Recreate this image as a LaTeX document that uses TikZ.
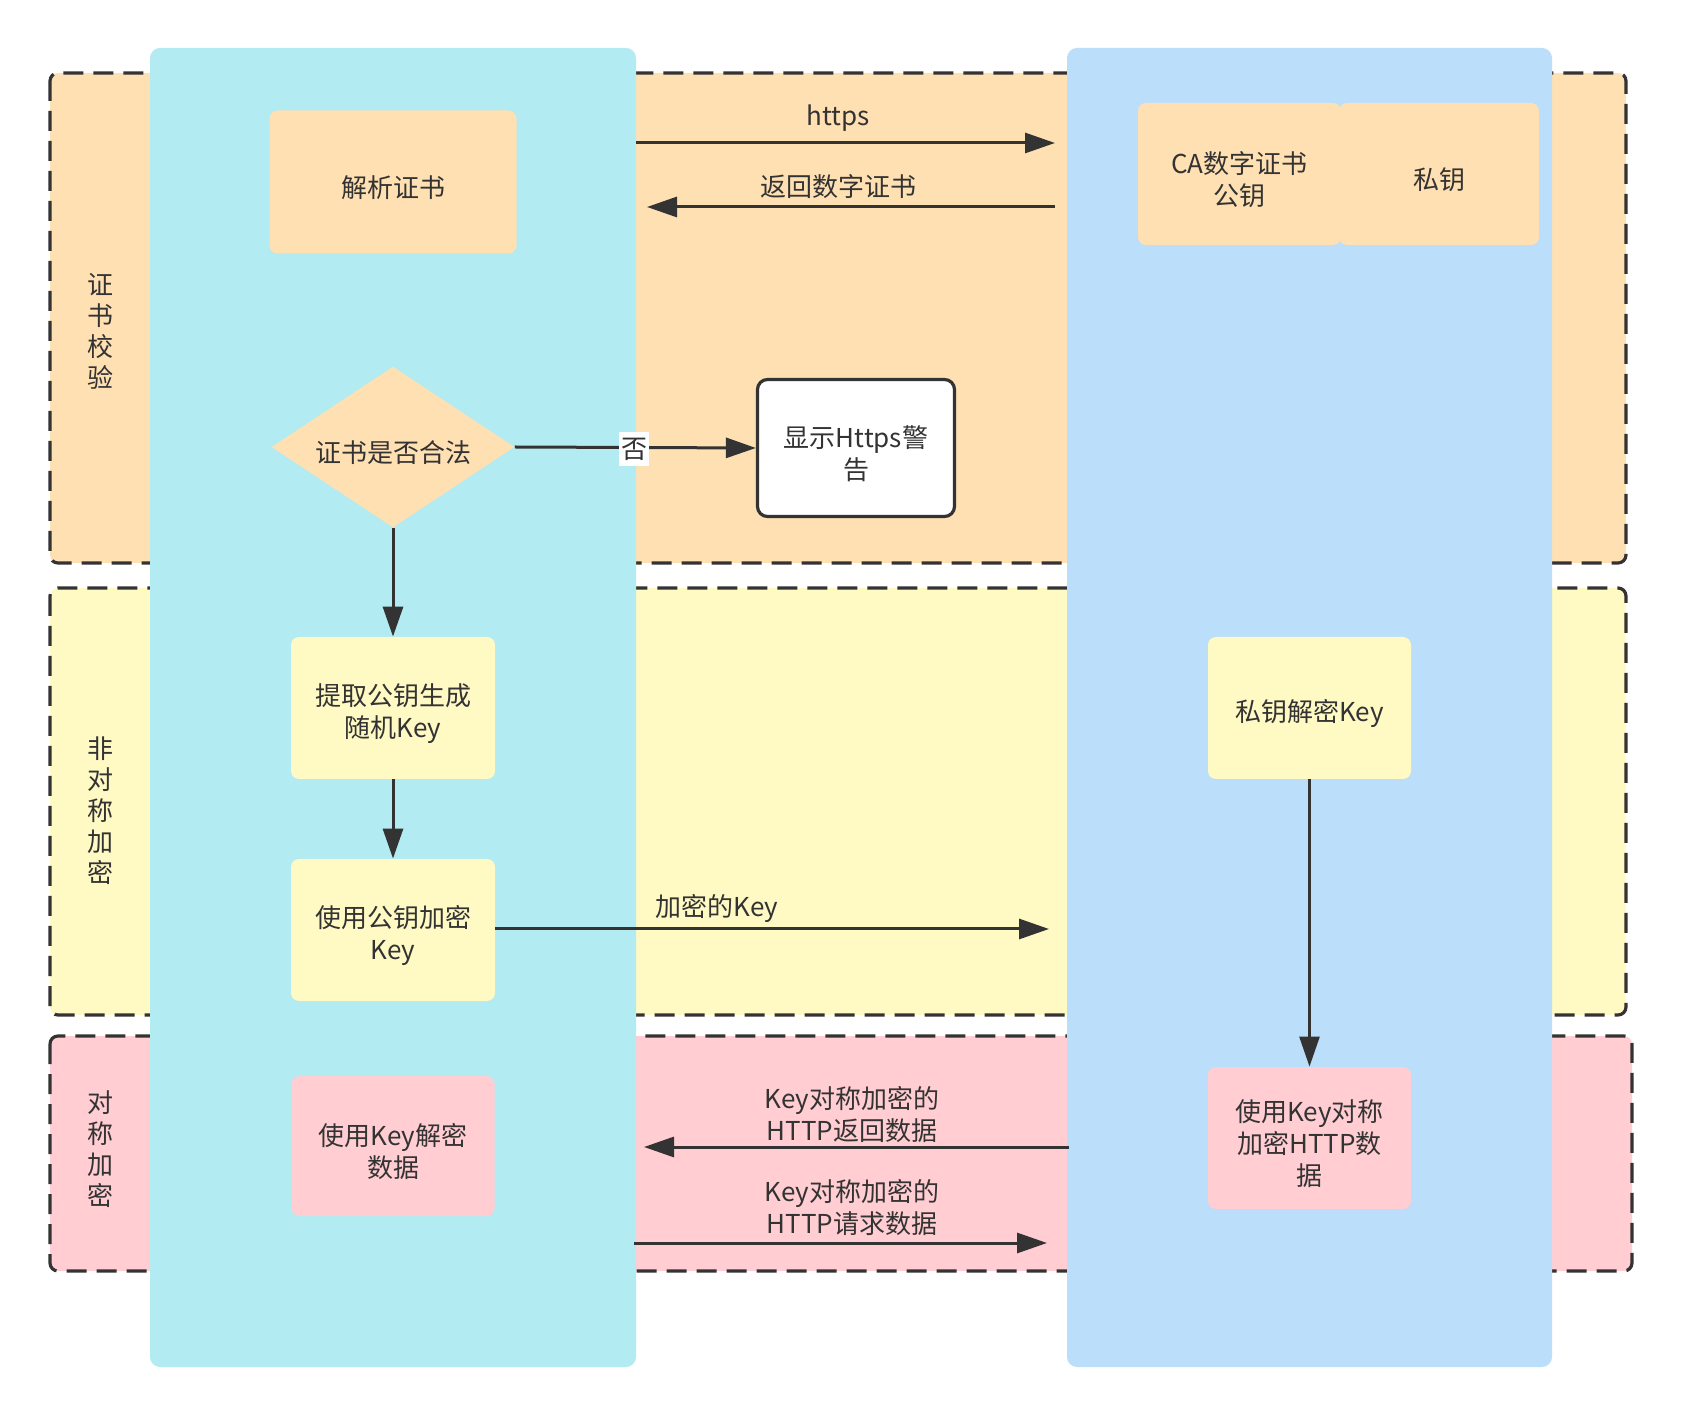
\documentclass[tikz,border=0pt]{standalone}
\usepackage{fontspec}
\setmainfont{Noto Sans CJK SC}
\usetikzlibrary{arrows.meta,shapes.geometric}
\definecolor{dark}{HTML}{333333}
\definecolor{peach}{HTML}{FFE0B2}
\definecolor{lyellow}{HTML}{FFF9C4}
\definecolor{lpink}{HTML}{FFCDD2}
\definecolor{lcyan}{HTML}{B2EBF2}
\definecolor{lblue}{HTML}{BBDEFB}
\tikzset{
  band/.style={draw=dark, line width=1.6pt, dash pattern=on 10pt off 5pt, rounded corners=4pt},
  lane/.style={rounded corners=5pt},
  box/.style={rectangle, rounded corners=4pt, inner sep=0pt},
  boxtext/.style={text=dark, font=\fontsize{13}{16}\selectfont, align=center, inner sep=0pt, yshift=-2.7pt},
  arr/.style={draw=dark, line width=1.5pt, -{Triangle[length=15pt,width=10pt]}},
  lbl/.style={text=dark, font=\fontsize{13}{16}\selectfont, align=center, inner sep=0pt},
  side/.style={text=dark, font=\fontsize{13}{15.5}\selectfont, align=center, inner sep=0pt},
}
\begin{document}
\begin{tikzpicture}[x=0.5pt, y=-0.5pt]
\path[use as bounding box, fill=white] (0,0) rectangle (1682,1416);
% bands
\draw[band, fill=peach] (50,73) rectangle (1626,563);
\draw[band, fill=lyellow] (50,588) rectangle (1626,1015);
\draw[band, fill=lpink] (50,1036) rectangle (1632,1271);
% lanes
\fill[lane, lcyan] (150,48) rectangle (636,1367);
\fill[lane, lblue] (1067,48) rectangle (1552,1367);
% side labels
\node[side] (s1) at (100,331) {证\\书\\校\\验};
\node[side] (s2) at (100,811) {非\\对\\称\\加\\密};
\node[side] (s3) at (100,1149) {对\\称\\加\\密};
% boxes
\node[box, fill=peach, minimum width=123.5pt, minimum height=71.5pt,
  label={[boxtext]center:解析证书}] (parse) at (393,182) {};
\node[box, fill=peach, minimum width=101.5pt, minimum height=71pt,
  label={[boxtext]center:{CA数字证书\\公钥}}] (ca) at (1239.5,174) {};
\node[box, fill=peach, minimum width=100pt, minimum height=71pt,
  label={[boxtext]center:私钥}] (priv) at (1439,174) {};
\node[diamond, aspect=1.5, fill=peach, inner sep=0pt, minimum width=121.5pt, minimum height=80.5pt,
  label={[boxtext]center:证书是否合法}] (valid) at (393,447) {};
\node[box, fill=white, draw=dark, line width=1.6pt, rounded corners=5pt, minimum width=98.5pt, minimum height=68.5pt,
  label={[boxtext]center:{显示Https警\\告}}] (warn) at (856,448) {};
\node[box, fill=lyellow, minimum width=102pt, minimum height=71pt,
  label={[boxtext]center:{提取公钥生成\\随机Key}}] (gen) at (393,708) {};
\node[box, fill=lyellow, minimum width=102pt, minimum height=71pt,
  label={[boxtext]center:{使用公钥加密\\Key}}] (enc) at (393,930) {};
\node[box, fill=lyellow, minimum width=101.5pt, minimum height=71pt,
  label={[boxtext]center:私钥解密Key}] (dec) at (1309.5,708) {};
\node[box, fill=lpink, minimum width=101.5pt, minimum height=71pt,
  label={[boxtext]center:{使用Key对称\\加密HTTP数\\据}}] (symenc) at (1309.5,1138) {};
\node[box, fill=lpink, minimum width=101.5pt, minimum height=70pt,
  label={[boxtext]center:{使用Key解密\\数据}}] (symdec) at (393,1146) {};
% coordinates for free ends
\coordinate (h1) at (636,143);
\coordinate (h2) at (1055,143);
\coordinate (r1) at (1055,207);
\coordinate (r2) at (647,207);
\coordinate (k2) at (1049,929);
\coordinate (d1) at (1069,1147);
\coordinate (d2) at (644,1147);
\coordinate (q1) at (634,1243);
\coordinate (q2) at (1047,1243);
% arrows
\draw[arr] (h1) -- (h2);
\node[lbl] (lh) at (838,118) {https};
\draw[arr] (r1) -- (r2);
\node[lbl] (lr) at (838,187) {返回数字证书};
\draw[arr] (valid.east) -- (warn.west);
\node[lbl, fill=white, inner xsep=1pt, inner ysep=3pt] (lno) at (634,449) {否};
\draw[arr] (valid.south) -- (gen.north);
\draw[arr] (gen.south) -- (enc.north);
\draw[arr] (enc.east |- k2) -- (k2);
\node[lbl] (lk) at (717,908) {加密的Key};
\draw[arr, line width=1.3pt] (dec.south) -- (symenc.north);
\draw[arr] (d1) -- (d2);
\node[lbl] (ld) at (852,1115) {Key对称加密的\\HTTP返回数据};
\draw[arr] (q1) -- (q2);
\node[lbl] (lq) at (852,1208) {Key对称加密的\\HTTP请求数据};
\end{tikzpicture}
\end{document}
